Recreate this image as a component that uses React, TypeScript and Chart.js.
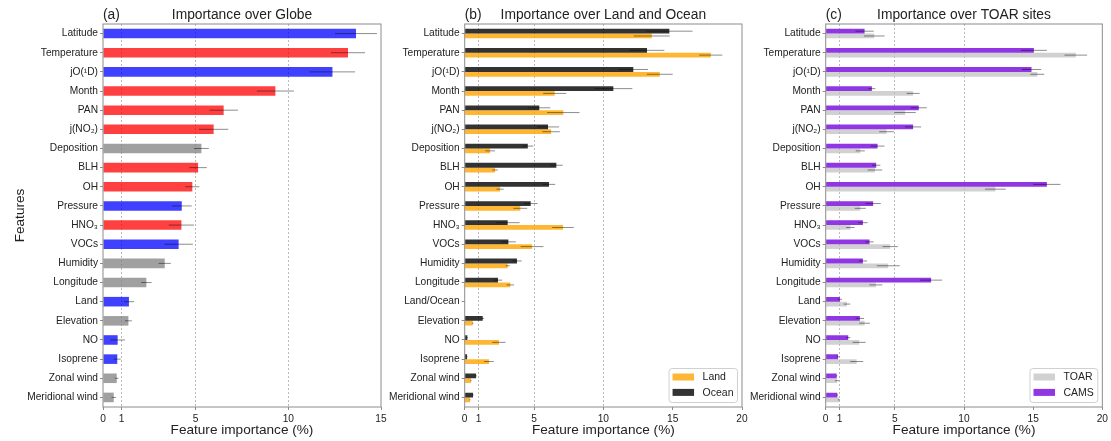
import React, { useEffect, useRef } from 'react';
import { Chart, registerables } from 'chart.js';

Chart.register(...registerables);

const FONT = "'Liberation Sans', Arial, Helvetica, sans-serif";

// ---------- categories ----------
const globeFeatures = [
  'Latitude', 'Temperature', 'jO(¹D)', 'Month', 'PAN', 'j(NO₂)', 'Deposition', 'BLH', 'OH', 'Pressure',
  'HNO₃', 'VOCs', 'Humidity', 'Longitude', 'Land', 'Elevation', 'NO', 'Isoprene', 'Zonal wind', 'Meridional wind',
];
const landOceanFeatures = [
  'Latitude', 'Temperature', 'jO(¹D)', 'Month', 'PAN', 'j(NO₂)', 'Deposition', 'BLH', 'OH', 'Pressure',
  'HNO₃', 'VOCs', 'Humidity', 'Longitude', 'Land/Ocean', 'Elevation', 'NO', 'Isoprene', 'Zonal wind', 'Meridional wind',
];
const toarFeatures = globeFeatures;

// ---------- (a) Globe ----------
const globeValues = [13.65, 13.22, 12.38, 9.3, 6.51, 5.97, 5.31, 5.13, 4.82, 4.25, 4.23, 4.08, 3.33, 2.34, 1.4, 1.37, 0.79, 0.77, 0.74, 0.58];
const globeErrors = [1.13, 0.92, 1.22, 1.0, 0.77, 0.79, 0.4, 0.47, 0.38, 0.54, 0.68, 0.77, 0.33, 0.28, 0.28, 0.19, 0.4, 0.19, 0.1, 0.12];
const globeGroups = ['A', 'B', 'A', 'B', 'B', 'B', 'C', 'B', 'B', 'A', 'B', 'A', 'C', 'C', 'A', 'C', 'A', 'A', 'C', 'C'];

// ---------- (b) Land and Ocean ----------
const oceanValues = [14.76, 13.15, 12.16, 10.72, 5.38, 6.01, 4.55, 6.61, 6.08, 4.76, 3.1, 3.15, 3.77, 2.4, 0, 1.3, 0.19, 0.17, 0.82, 0.6];
const oceanErrors = [1.67, 1.25, 1.06, 1.37, 0.8, 0.8, 0.4, 0.46, 0.45, 0.5, 0.86, 0.53, 0.34, 0.3, 0, 0.1, 0.05, 0.04, 0.05, 0.05];
const landValues = [13.49, 17.75, 14.07, 6.49, 7.11, 6.23, 1.83, 2.19, 2.55, 4.01, 7.09, 4.86, 3.1, 3.29, 0, 0.58, 2.47, 1.75, 0.45, 0.38];
const landErrors = [1.3, 0.83, 0.93, 0.83, 1.17, 0.63, 0.35, 0.2, 0.26, 0.5, 0.78, 0.82, 0.15, 0.27, 0, 0.05, 0.48, 0.35, 0.05, 0.04];

// ---------- (c) TOAR sites ----------
const camsValues = [2.81, 15.05, 14.88, 3.34, 6.73, 6.32, 3.75, 3.65, 15.99, 3.43, 2.69, 3.17, 2.69, 7.62, 1.03, 2.47, 1.63, 0.89, 0.79, 0.84];
const camsErrors = [0.66, 0.94, 0.7, 0.25, 0.58, 0.58, 0.5, 0.3, 0.98, 0.55, 0.34, 0.3, 0.3, 0.8, 0.15, 0.3, 0.15, 0.1, 0.05, 0.05];
const toarValues = [3.51, 18.08, 15.3, 6.32, 5.74, 4.4, 2.5, 3.56, 12.27, 2.5, 1.78, 4.66, 4.52, 3.63, 1.54, 2.81, 2.42, 2.24, 0.82, 0.96];
const toarErrors = [0.75, 0.82, 0.5, 0.47, 0.77, 0.53, 0.33, 0.53, 0.75, 0.4, 0.31, 0.55, 0.83, 0.47, 0.24, 0.39, 0.47, 0.47, 0.15, 0.08];

// ---------- ticks ----------
const ticks15 = [0, 1, 5, 10, 15];
const ticks20 = [0, 1, 5, 10, 15, 20];
const gridTicks = [1, 5, 10];

// ---------- styles ----------
const groupColors: Record<string, string> = {
  A: 'rgba(0,0,255,0.75)',
  B: 'rgba(255,0,0,0.75)',
  C: 'rgba(128,128,128,0.75)',
};
const ORANGE = 'rgba(255,165,0,0.8)';
const DARK = 'rgba(0,0,0,0.8)';
const PURPLE = 'rgba(138,43,226,0.95)';
const LIGHT = 'rgba(190,190,190,0.7)';
const TEXT = '#222';

interface DS { label: string; data: number[]; errors: number[]; color: string | string[] }
interface Spec {
  tag: string;
  title: string;
  labels: string[];
  datasets: DS[];
  legend: { label: string; color: string }[] | null;
  xMax: number;
  ticks: number[];
  padLeft: number;
  padRight: number;
  yWidth: number;
  yTitle: string | null;
  barPct: number;
  catPct: number;
}

const specs: Spec[] = [
  {
    tag: '(a)', title: 'Importance over Globe', labels: globeFeatures,
    datasets: [{ label: 'Globe', data: globeValues, errors: globeErrors, color: globeGroups.map((g) => groupColors[g]) }],
    legend: null, xMax: 15, ticks: ticks15, padLeft: 0, padRight: 730, yWidth: 103, yTitle: 'Features',
    barPct: 0.5, catPct: 1,
  },
  {
    tag: '(b)', title: 'Importance over Land and Ocean', labels: landOceanFeatures,
    datasets: [
      { label: 'Ocean', data: oceanValues, errors: oceanErrors, color: DARK },
      { label: 'Land', data: landValues, errors: landErrors, color: ORANGE },
    ],
    legend: [{ label: 'Land', color: ORANGE }, { label: 'Ocean', color: DARK }],
    xMax: 20, ticks: ticks20, padLeft: 374.7, padRight: 369, yWidth: 90, yTitle: null,
    barPct: 1, catPct: 0.5,
  },
  {
    tag: '(c)', title: 'Importance over TOAR sites', labels: toarFeatures,
    datasets: [
      { label: 'CAMS', data: camsValues, errors: camsErrors, color: PURPLE },
      { label: 'TOAR', data: toarValues, errors: toarErrors, color: LIGHT },
    ],
    legend: [{ label: 'TOAR', color: LIGHT }, { label: 'CAMS', color: PURPLE }],
    xMax: 20, ticks: ticks20, padLeft: 735.7, padRight: 8, yWidth: 90, yTitle: null,
    barPct: 1, catPct: 0.5,
  },
];

function makeDecor(spec: Spec) {
  return {
    id: 'decor',
    afterDatasetsDraw(chart: any) {
      const ctx = chart.ctx;
      const xs = chart.scales.x;
      ctx.save();
      ctx.strokeStyle = 'rgba(0,0,0,0.45)';
      ctx.lineWidth = 1;
      spec.datasets.forEach((ds, i) => {
        const meta = chart.getDatasetMeta(i);
        meta.data.forEach((el: any, j: number) => {
          const v = ds.data[j];
          const e = ds.errors[j];
          if (!e) return;
          const x1 = xs.getPixelForValue(v - e);
          const x2 = xs.getPixelForValue(v + e);
          ctx.beginPath();
          ctx.moveTo(x1, el.y);
          ctx.lineTo(x2, el.y);
          ctx.stroke();
        });
      });
      ctx.restore();
    },
    afterDraw(chart: any) {
      const ctx = chart.ctx;
      const a = chart.chartArea;
      ctx.save();
      // frame
      ctx.strokeStyle = '#8c8c8c';
      ctx.lineWidth = 1;
      ctx.strokeRect(a.left, a.top, a.right - a.left, a.bottom - a.top);
      // titles
      ctx.fillStyle = TEXT;
      ctx.font = `13.8px ${FONT}`;
      ctx.textBaseline = 'middle';
      ctx.textAlign = 'left';
      ctx.fillText(spec.tag, a.left, 15);
      ctx.textAlign = 'center';
      ctx.fillText(spec.title, (a.left + a.right) / 2, 15);
      // legend
      if (spec.legend) {
        ctx.font = `10.5px ${FONT}`;
        const tw = Math.max(...spec.legend.map((l) => ctx.measureText(l.label).width));
        const padL = 3.5;
        const patchW = 21.5;
        const gap = 8.5;
        const padR = 4;
        const w = padL + patchW + gap + tw + padR;
        const h = 34;
        const right = a.right - 4.5;
        const bottom = a.bottom - 4.5;
        const left = right - w;
        const top = bottom - h;
        ctx.fillStyle = 'rgba(255,255,255,0.85)';
        ctx.strokeStyle = '#d0d0d0';
        ctx.lineWidth = 1;
        ctx.beginPath();
        const r = 3;
        ctx.moveTo(left + r, top);
        ctx.lineTo(right - r, top);
        ctx.arcTo(right, top, right, top + r, r);
        ctx.lineTo(right, bottom - r);
        ctx.arcTo(right, bottom, right - r, bottom, r);
        ctx.lineTo(left + r, bottom);
        ctx.arcTo(left, bottom, left, bottom - r, r);
        ctx.lineTo(left, top + r);
        ctx.arcTo(left, top, left + r, top, r);
        ctx.closePath();
        ctx.fill();
        ctx.stroke();
        spec.legend.forEach((item, k) => {
          const cy = top + 8.5 + k * 15.4;
          ctx.fillStyle = item.color;
          ctx.fillRect(left + padL, cy - 3.5, patchW, 7);
          ctx.fillStyle = TEXT;
          ctx.textAlign = 'left';
          ctx.textBaseline = 'middle';
          ctx.fillText(item.label, left + padL + patchW + gap, cy + 0.5);
        });
      }
      ctx.restore();
    },
  };
}

function Panel({ spec }: { spec: Spec }) {
  const ref = useRef<HTMLCanvasElement>(null);
  useEffect(() => {
    const chart = new Chart(ref.current as HTMLCanvasElement, {
      type: 'bar',
      data: {
        labels: spec.labels,
        datasets: spec.datasets.map((d) => ({
          label: d.label,
          data: d.data,
          backgroundColor: d.color as any,
          borderWidth: 0,
          barPercentage: spec.barPct,
          categoryPercentage: spec.catPct,
        })),
      },
      options: {
        indexAxis: 'y',
        responsive: false,
        animation: false,
        devicePixelRatio: 1,
        layout: { padding: { left: spec.padLeft, right: spec.padRight, top: 24, bottom: 0 } },
        plugins: {
          legend: { display: false },
          title: { display: false },
          tooltip: { enabled: false },
        },
        scales: {
          x: {
            type: 'linear',
            min: 0,
            max: spec.xMax,
            afterBuildTicks: (s: any) => {
              s.ticks = spec.ticks.map((v) => ({ value: v }));
            },
            afterFit: (s: any) => {
              s.height = 34;
            },
            grid: {
              color: (c: any) => (c.tick && gridTicks.includes(c.tick.value) ? '#a8a8a8' : 'rgba(0,0,0,0)'),
              lineWidth: 0.8,
              drawTicks: true,
              tickLength: 3,
              tickColor: '#8c8c8c',
              tickWidth: 1,
            },
            border: { display: false, dash: [2, 2] },
            ticks: { font: { family: FONT, size: 10.2 }, color: TEXT, padding: 3, autoSkip: false, maxRotation: 0 },
            title: {
              display: true,
              text: 'Feature importance (%)',
              font: { family: FONT, size: 13.6 },
              color: TEXT,
              padding: { top: 0, bottom: 3 },
            },
          },
          y: {
            type: 'category',
            afterFit: (s: any) => {
              s.width = spec.yWidth;
            },
            grid: { display: true, drawOnChartArea: false, offset: false, tickLength: 3, color: '#8c8c8c' },
            border: { display: false },
            ticks: { font: { family: FONT, size: 10.2 }, color: TEXT, padding: 2, autoSkip: false },
            title: spec.yTitle
              ? { display: true, text: spec.yTitle, font: { family: FONT, size: 13.6 }, color: TEXT, padding: { top: 12, bottom: 0 } }
              : { display: false },
          },
        },
      } as any,
      plugins: [makeDecor(spec)],
    });
    return () => chart.destroy();
  }, [spec]);
  return (
    <canvas
      ref={ref}
      width={1111}
      height={441}
      style={{ position: 'absolute', left: 0, top: 0, width: 1111, height: 441 }}
    />
  );
}

export default function App() {
  return (
    <div style={{ position: 'absolute', left: 0, top: 0, width: 1111, height: 441, background: '#fff', overflow: 'hidden' }}>
      {specs.map((s) => (
        <Panel key={s.tag} spec={s} />
      ))}
    </div>
  );
}
